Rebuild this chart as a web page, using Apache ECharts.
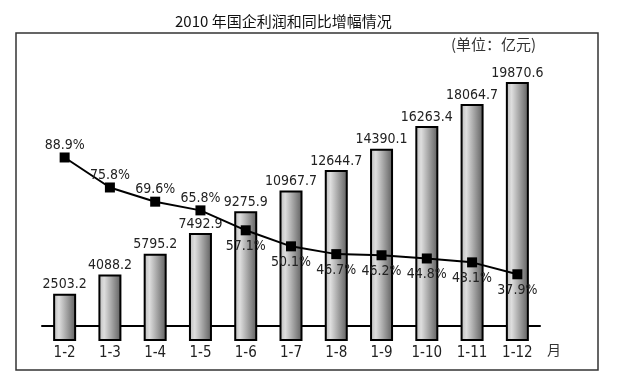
<!DOCTYPE html>
<html><head><meta charset="utf-8">
<script src="https://cdn.jsdelivr.net/npm/echarts@6/dist/echarts.min.js"></script>
<style>html,body{margin:0;padding:0;background:#fff}#c{width:634px;height:387px}</style>
</head><body><div id="c"></div>
<script>
const categories = ['1-2','1-3','1-4','1-5','1-6','1-7','1-8','1-9','1-10','1-11','1-12'];
const profit = [2503.2, 4088.2, 5795.2, 7492.9, 9275.9, 10967.7, 12644.7, 14390.1, 16263.4, 18064.7, 19870.6];
const growth = [88.9, 75.8, 69.6, 65.8, 57.1, 50.1, 46.7, 46.2, 44.8, 43.1, 37.9];
const titleText = '2010 年国企利润和同比增幅情况';
const unitText = '(单位：亿元)';
const axisUnit = '月';

const narrow = '"DejaVu Sans Condensed", "Liberation Sans Narrow", "Liberation Sans", sans-serif';
const barMin = -1200;
const chart = echarts.init(document.getElementById('c'));
chart.setOption({
  backgroundColor: '#fff',
  animation: false,
  title: {
    text: titleText, left: 170, top: 9,
    textStyle: { fontSize: 15, fontWeight: 'normal', color: '#111', fontFamily: '"Noto Sans CJK SC", sans-serif' }
  },
  graphic: [
    { type: 'rect', shape: { x: 16, y: 33, width: 582, height: 337 }, style: { fill: 'none', stroke: '#333', lineWidth: 1.5 }, silent: true },
    { type: 'text', left: 451, top: 37, style: { text: unitText, fill: '#333', font: '15px "Noto Sans CJK SC", sans-serif' } },
    { type: 'text', left: 547, top: 343, style: { text: axisUnit, fill: '#333', font: '14px "Noto Sans CJK SC", sans-serif' } }
  ],
  grid: { left: 42, right: 94, top: 70, bottom: 47 },
  xAxis: {
    type: 'category', data: categories,
    axisLine: { lineStyle: { color: '#000', width: 2 } },
    axisTick: { show: false },
    axisLabel: { color: '#222', fontSize: 15, fontFamily: narrow, margin: 6 }
  },
  yAxis: [
    { type: 'value', min: barMin, max: 20931, show: false, splitLine: { show: false } },
    { type: 'value', min: 9.2, max: 127.1, show: false, splitLine: { show: false } }
  ],
  series: [
    {
      type: 'custom', yAxisIndex: 0, data: profit,
      renderItem: function (params, api) {
        const i = params.dataIndex;
        const v = api.value(1);
        const top = api.coord([i, v]);
        const bot = api.coord([i, barMin]);
        const w = 21;
        return {
          type: 'group',
          children: [
            {
              type: 'rect',
              shape: { x: top[0] - w / 2, y: top[1], width: w, height: bot[1] - top[1] },
              style: {
                stroke: '#000', lineWidth: 2,
                fill: new echarts.graphic.LinearGradient(0, 0, 1, 0, [
                  { offset: 0, color: '#b8b8b8' },
                  { offset: 0.25, color: '#dedede' },
                  { offset: 1, color: '#5c5c5c' }
                ])
              }
            },
            {
              type: 'text',
              x: top[0], y: top[1] - 3,
              style: { text: String(profit[i]), fill: '#222', font: '14px ' + narrow, align: 'center', verticalAlign: 'bottom' }
            }
          ]
        };
      },
      encode: { x: 0, y: 1 }
    },
    {
      type: 'line', yAxisIndex: 1, z: 5,
      data: growth.map((v, i) => ({ value: v, label: { position: i < 4 ? 'top' : 'bottom', distance: i < 4 ? 0 : 4 } })),
      symbol: 'rect', symbolSize: 10,
      lineStyle: { color: '#000', width: 2 },
      itemStyle: { color: '#000' },
      label: {
        show: true, color: '#222', fontSize: 14, fontFamily: narrow,
        formatter: p => p.value + '%'
      }
    }
  ]
});
</script></body></html>
